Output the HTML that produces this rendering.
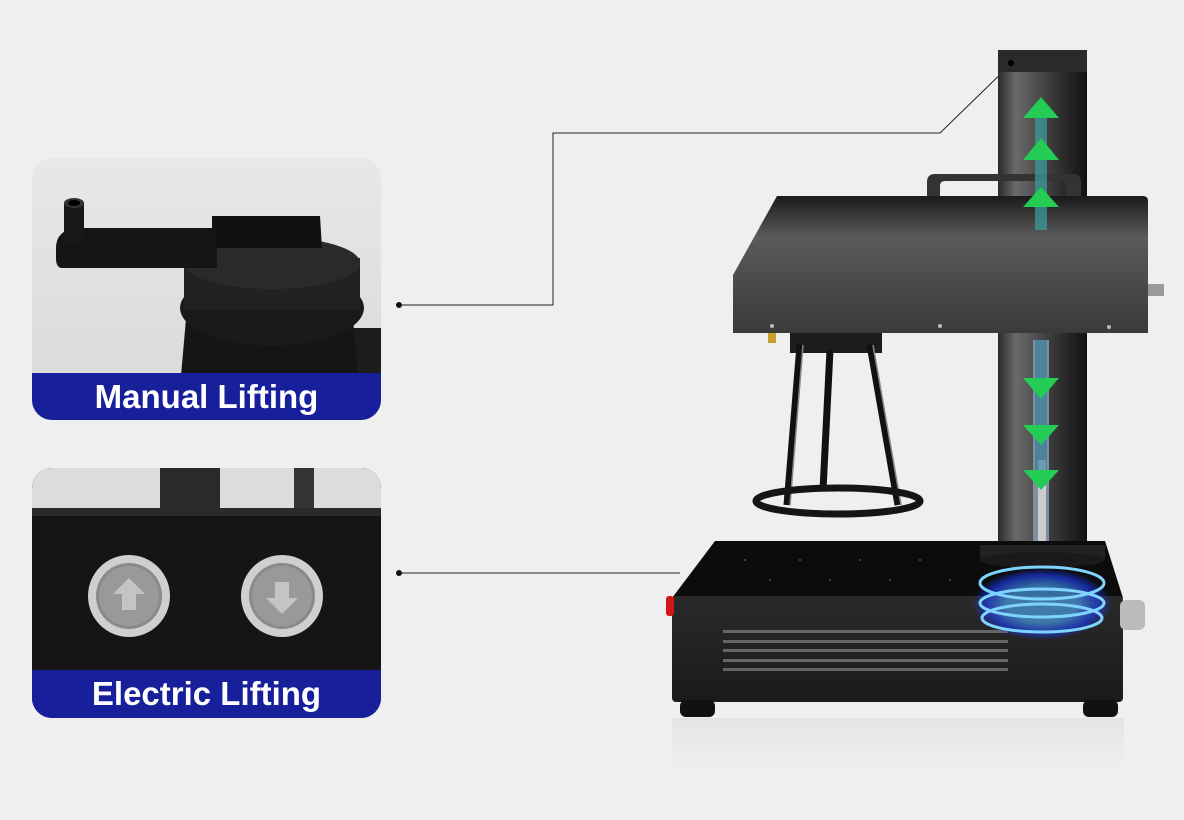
<!DOCTYPE html>
<html><head><meta charset="utf-8"><style>
html,body{margin:0;padding:0;background:#efefef;}
body{width:1184px;height:820px;overflow:hidden;position:relative;font-family:"Liberation Sans",sans-serif;}
.card{position:absolute;left:32px;width:349px;border-radius:20px;overflow:hidden;}
.banner{position:absolute;left:0;right:0;bottom:0;background:#17209a;color:#fff;font-weight:bold;font-size:33px;text-align:center;}
</style></head><body>
<div class="card" style="top:158px;height:262px;background:#e2e2e2;">
<svg width="349" height="262" style="position:absolute;left:0;top:0">
<defs><linearGradient id="bg1" x1="0" y1="0" x2="0" y2="1"><stop offset="0" stop-color="#e8e8e8"/><stop offset="1" stop-color="#d8d8d8"/></linearGradient></defs>
<rect width="349" height="262" fill="url(#bg1)"/>
<rect x="320" y="170" width="29" height="60" fill="#1c1c1c"/>
<path d="M145,262 L155,150 L320,150 L330,262 Z" fill="#151515"/>
<ellipse cx="240" cy="150" rx="92" ry="38" fill="#1a1a1a"/>
<ellipse cx="240" cy="118" rx="88" ry="30" fill="#252525"/>
<rect x="152" y="100" width="176" height="52" fill="#222"/>
<ellipse cx="240" cy="105" rx="88" ry="26" fill="#2a2a2a"/>
<path d="M180,58 L288,58 L290,90 L180,90 Z" fill="#111"/>
<path d="M24,90 Q24,72 45,70 L185,70 L185,110 L30,110 Q24,110 24,100 Z" fill="#151515"/>
<rect x="32" y="45" width="20" height="40" fill="#181818"/>
<ellipse cx="42" cy="45" rx="10" ry="5" fill="#333"/>
<ellipse cx="42" cy="45" rx="6" ry="3" fill="#000"/>
</svg>
<div class="banner" style="height:47px;line-height:47px;">Manual Lifting</div>
</div>
<div class="card" style="top:468px;height:250px;background:#1a1a1a;">
<svg width="349" height="250" style="position:absolute;left:0;top:0">
<rect width="349" height="44" fill="#dcdcdc"/>
<rect x="128" y="0" width="60" height="44" fill="#2a2a2a"/>
<rect x="262" y="0" width="20" height="44" fill="#333"/>
<rect y="40" width="349" height="8" fill="#2b2b2b"/>
<rect y="48" width="349" height="160" fill="#151515"/>
<g>
<circle cx="97" cy="128" r="41" fill="#cfcfcf"/><circle cx="97" cy="128" r="33" fill="#8a8a8a"/><circle cx="97" cy="128" r="30" fill="#999"/>
<path d="M97,110 L113,126 L104,126 L104,142 L90,142 L90,126 L81,126 Z" fill="#c4c4c4"/>
<circle cx="250" cy="128" r="41" fill="#cfcfcf"/><circle cx="250" cy="128" r="33" fill="#8a8a8a"/><circle cx="250" cy="128" r="30" fill="#999"/>
<path d="M250,146 L266,130 L257,130 L257,114 L243,114 L243,130 L234,130 Z" fill="#c4c4c4"/>
</g>
</svg>
<div class="banner" style="height:48px;line-height:48px;">Electric Lifting</div>
</div>
<svg width="1184" height="820" style="position:absolute;left:0;top:0">
<defs>
<linearGradient id="col" x1="0" x2="1"><stop offset="0" stop-color="#2a2a2a"/><stop offset="0.2" stop-color="#6a6a6a"/><stop offset="0.6" stop-color="#3a3a3a"/><stop offset="1" stop-color="#111"/></linearGradient>
<linearGradient id="head" x1="0" y1="0" x2="0" y2="1"><stop offset="0" stop-color="#1a1a1a"/><stop offset="0.3" stop-color="#5a5a5a"/><stop offset="1" stop-color="#3a3a3a"/></linearGradient>
<linearGradient id="front" x1="0" y1="0" x2="0" y2="1"><stop offset="0" stop-color="#2a2a2a"/><stop offset="1" stop-color="#1a1a1a"/></linearGradient>
<radialGradient id="glow"><stop offset="0.5" stop-color="#4fb0ff"/><stop offset="0.8" stop-color="#1a3cff"/><stop offset="1" stop-color="#1a3cff" stop-opacity="0"/></radialGradient>
<linearGradient id="refl" x1="0" y1="0" x2="0" y2="1"><stop offset="0" stop-color="#e4e4e4"/><stop offset="1" stop-color="#efefef"/></linearGradient>
</defs>
<g stroke="#222" stroke-width="1" fill="none">
<polyline points="399,305 553,305 553,133 940,133 1012,63"/>
<line x1="399" y1="573" x2="680" y2="573"/>
</g>
<circle cx="399" cy="305" r="3" fill="#111"/><circle cx="399" cy="573" r="3" fill="#111"/>
<rect x="672" y="718" width="452" height="50" fill="url(#refl)"/>
<rect x="998" y="50" width="89" height="495" rx="4" fill="url(#col)"/>
<rect x="998" y="50" width="89" height="22" fill="#2a2a2a"/>
<circle cx="1011" cy="63" r="3" fill="#000"/>
<rect x="1033" y="340" width="16" height="205" fill="#7d8fa0"/>
<rect x="1038" y="460" width="8" height="85" fill="#ccc"/>
<path d="M927,196 L927,182 Q927,174 935,174 L1073,174 Q1081,174 1081,182 L1081,196 L1066,196 L1066,186 Q1066,181 1061,181 L945,181 Q940,181 940,186 L940,196 Z" fill="#333"/>
<path d="M777,196 L1143,196 Q1148,196 1148,201 L1148,333 L733,333 L733,275 Z" fill="url(#head)"/>
<rect x="1148" y="284" width="16" height="12" fill="#999"/>
<circle cx="772" cy="326" r="2" fill="#bbb"/><circle cx="940" cy="326" r="2" fill="#bbb"/><circle cx="1109" cy="327" r="2" fill="#bbb"/>
<rect x="768" y="333" width="8" height="10" fill="#c9a030"/>
<rect x="790" y="333" width="92" height="20" fill="#1c1c1c"/>
<g stroke="#111" stroke-width="7" fill="none">
<line x1="800" y1="345" x2="787" y2="505"/>
<line x1="830" y1="350" x2="823" y2="490"/>
<line x1="870" y1="345" x2="898" y2="505"/>
</g>
<g stroke="#888" stroke-width="1.5" fill="none">
<line x1="803" y1="345" x2="790" y2="505"/><line x1="873" y1="345" x2="901" y2="505"/>
</g>
<ellipse cx="838" cy="501" rx="82" ry="13" fill="none" stroke="#151515" stroke-width="7"/>
<path d="M715,541 L1105,541 L1123,598 L672,598 Z" fill="#0c0c0c"/>
<rect x="672" y="596" width="451" height="106" rx="4" fill="url(#front)"/>
<rect x="680" y="700" width="35" height="17" rx="6" fill="#111"/>
<rect x="1083" y="700" width="35" height="17" rx="6" fill="#111"/>
<rect x="666" y="596" width="8" height="20" rx="3" fill="#d01818"/>
<rect x="1120" y="600" width="25" height="30" rx="6" fill="#bbb"/>
<g fill="#666">
<rect x="723" y="630" width="285" height="3"/><rect x="723" y="640" width="285" height="3"/><rect x="723" y="649" width="285" height="3"/><rect x="723" y="659" width="285" height="3"/><rect x="723" y="668" width="285" height="3"/>
</g>
<g fill="#555">
<circle cx="745" cy="560" r="1"/><circle cx="800" cy="560" r="1"/><circle cx="860" cy="560" r="1"/><circle cx="920" cy="560" r="1"/><circle cx="770" cy="580" r="1"/><circle cx="830" cy="580" r="1"/><circle cx="890" cy="580" r="1"/><circle cx="950" cy="580" r="1"/>
</g>
<path d="M980,545 L1105,545 L1105,560 L980,560 Z" fill="#222"/>
<ellipse cx="1042" cy="560" rx="62" ry="8" fill="#1a1a1a"/>
<ellipse cx="1042" cy="604" rx="70" ry="36" fill="url(#glow)" opacity="0.6"/>
<g fill="none" stroke="#7fd4ff" stroke-width="3">
<ellipse cx="1042" cy="583" rx="62" ry="16"/><ellipse cx="1042" cy="603" rx="62" ry="14"/><ellipse cx="1042" cy="618" rx="60" ry="14"/>
</g>
<g fill="#22cc55">
<rect x="1035" y="110" width="12" height="120" fill="#3aa0a0" opacity="0.7"/>
<path d="M1041,97 L1059,118 L1023,118 Z"/><path d="M1041,138 L1059,160 L1023,160 Z"/><path d="M1041,187 L1059,207 L1023,207 Z"/>
<rect x="1035" y="340" width="12" height="135" fill="#2a7a9a" opacity="0.6"/>
<path d="M1041,399 L1059,378 L1023,378 Z"/><path d="M1041,445 L1059,425 L1023,425 Z"/><path d="M1041,490 L1059,470 L1023,470 Z"/>
</g>
</svg>
</body></html>
